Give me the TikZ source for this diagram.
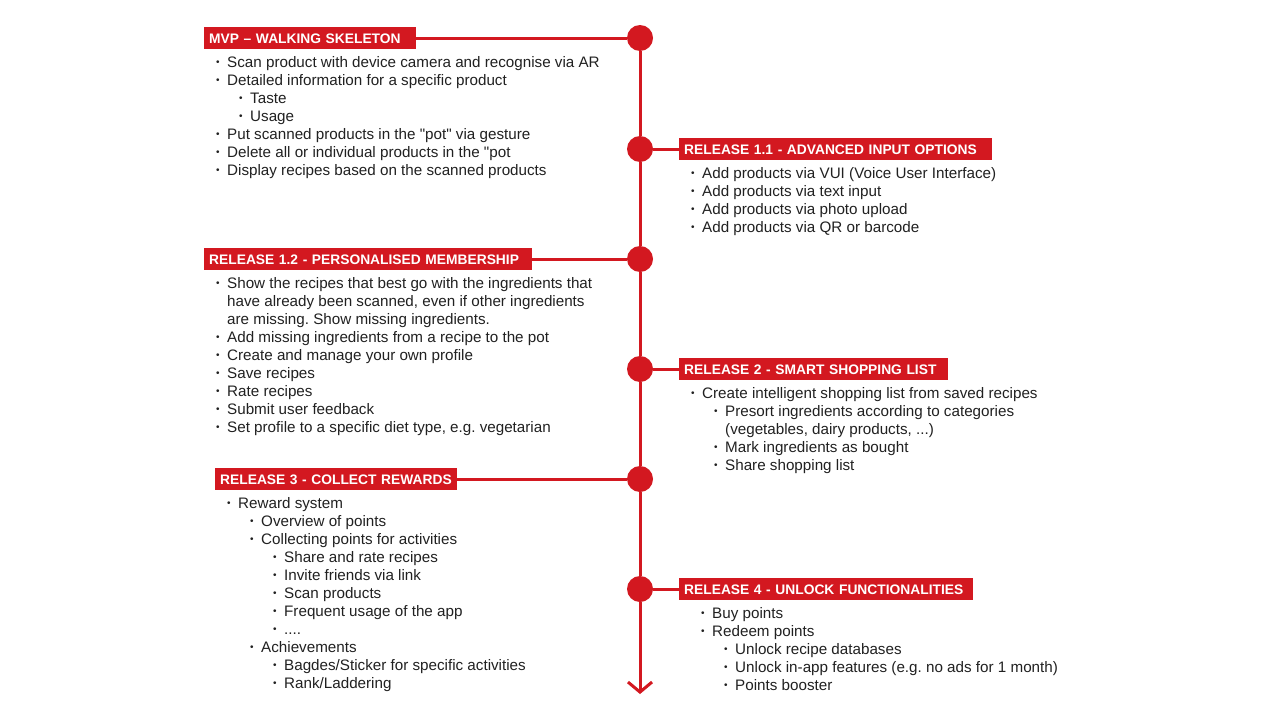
\documentclass[tikz,border=0pt]{standalone}
\usepackage{fontspec}
\setmainfont{Liberation Sans}[Ligatures=TeXOff]
\usetikzlibrary{arrows.meta}
\definecolor{rred}{RGB}{211,24,32}
\definecolor{ink}{RGB}{33,33,33}
\frenchspacing
\newcommand\bul{\makebox[11pt][l]{\raisebox{1.8pt}{\fontsize{10}{10}\selectfont\textbullet}}}
\newcommand\lA[1]{\bul#1}
\newcommand\lB[1]{\hspace*{23pt}\bul#1}
\newcommand\lC[1]{\hspace*{46pt}\bul#1}
\newcommand\cA[1]{\hspace*{11pt}#1}
\newcommand\cB[1]{\hspace*{34pt}#1}
\begin{document}
\begin{tikzpicture}[x=1pt,y=-1pt,
  hdr/.style={fill=rred,text=white,font=\fontsize{13.8}{16}\selectfont\bfseries,inner xsep=5pt,inner ysep=0pt,minimum height=22pt,text height=10pt,text depth=0pt,align=left,anchor=west},
  dot/.style={circle,fill=rred,minimum size=26pt,inner sep=0pt},
  conn/.style={draw=rred,line width=3pt},
  items/.style={anchor=base west,inner sep=0pt,text=ink,font=\fontsize{15.2}{18}\selectfont}]
\useasboundingbox[fill=white] (0,0) rectangle (1280,720);

% timeline dots
\node[dot] (c0) at (640,38) {};
\node[dot] (c1) at (640,149) {};
\node[dot] (c2) at (640,259) {};
\node[dot] (c3) at (640,369) {};
\node[dot] (c4) at (640,479) {};
\node[dot] (c5) at (640,589) {};
\coordinate (tend) at (640,694);

% headers
\node[hdr,text width=202pt] (h0) at (204,38) {\mbox{MVP – WALKING SKELETON}};
\node[hdr,text width=303pt] (h1) at (679,149) {\mbox{RELEASE 1.1 - ADVANCED INPUT OPTIONS}};
\node[hdr,text width=318pt] (h2) at (204,259) {\mbox{RELEASE 1.2 - PERSONALISED MEMBERSHIP}};
\node[hdr,text width=259pt] (h3) at (679,369) {\mbox{RELEASE 2 - SMART SHOPPING LIST}};
\node[hdr,text width=232pt] (h4) at (215,479) {\mbox{RELEASE 3 - COLLECT REWARDS}};
\node[hdr,text width=284pt] (h5) at (679,589) {\mbox{RELEASE 4 - UNLOCK FUNCTIONALITIES}};

% connectors
\draw[conn] (c0) -- (c1) -- (c2) -- (c3) -- (c4) -- (c5);
\draw[conn,-{Straight Barb[length=10pt,width=24pt]}] (c5) -- (tend);
\draw[conn] (h0.east) -- (c0);
\draw[conn] (c1) -- (h1.west);
\draw[conn] (h2.east) -- (c2);
\draw[conn] (c3) -- (h3.west);
\draw[conn] (h4.east) -- (c4);
\draw[conn] (c5) -- (h5.west);

% item lists
\node[items] (t0) at (216,67) {\begin{tabular}[t]{@{}l@{}}
\lA{Scan product with device camera and recognise via AR}\\
\lA{Detailed information for a specific product}\\
\lB{Taste}\\
\lB{Usage}\\
\lA{Put scanned products in the "pot" via gesture}\\
\lA{Delete all or individual products in the "pot}\\
\lA{Display recipes based on the scanned products}
\end{tabular}};

\node[items] (t1) at (691,178) {\begin{tabular}[t]{@{}l@{}}
\lA{Add products via VUI (Voice User Interface)}\\
\lA{Add products via text input}\\
\lA{Add products via photo upload}\\
\lA{Add products via QR or barcode}
\end{tabular}};

\node[items] (t2) at (216,288) {\begin{tabular}[t]{@{}l@{}}
\lA{Show the recipes that best go with the ingredients that}\\
\cA{have already been scanned, even if other ingredients}\\
\cA{are missing. Show missing ingredients.}\\
\lA{Add missing ingredients from a recipe to the pot}\\
\lA{Create and manage your own profile}\\
\lA{Save recipes}\\
\lA{Rate recipes}\\
\lA{Submit user feedback}\\
\lA{Set profile to a specific diet type, e.g. vegetarian}
\end{tabular}};

\node[items] (t3) at (691,398) {\begin{tabular}[t]{@{}l@{}}
\lA{Create intelligent shopping list from saved recipes}\\
\lB{Presort ingredients according to categories}\\
\cB{(vegetables, dairy products, ...)}\\
\lB{Mark ingredients as bought}\\
\lB{Share shopping list}
\end{tabular}};

\node[items] (t4) at (227,508) {\begin{tabular}[t]{@{}l@{}}
\lA{Reward system}\\
\lB{Overview of points}\\
\lB{Collecting points for activities}\\
\lC{Share and rate recipes}\\
\lC{Invite friends via link}\\
\lC{Scan products}\\
\lC{Frequent usage of the app}\\
\lC{....}\\
\lB{Achievements}\\
\lC{Bagdes/Sticker for specific activities}\\
\lC{Rank/Laddering}
\end{tabular}};

\node[items] (t5) at (701,618) {\begin{tabular}[t]{@{}l@{}}
\lA{Buy points}\\
\lA{Redeem points}\\
\lB{Unlock recipe databases}\\
\lB{Unlock in-app features (e.g. no ads for 1 month)}\\
\lB{Points booster}
\end{tabular}};
\end{tikzpicture}
\end{document}
